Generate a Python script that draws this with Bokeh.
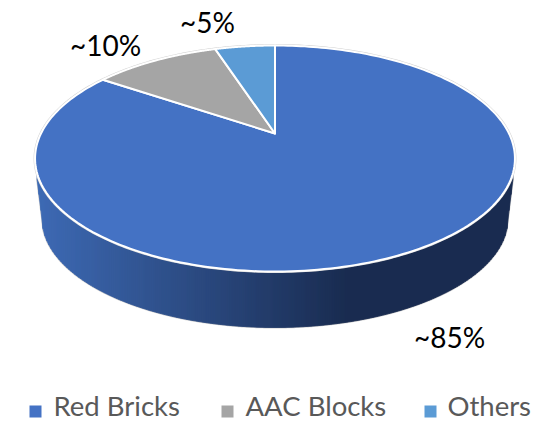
import numpy as np
from bokeh.plotting import figure
from bokeh.models import Range1d
from bokeh.core.properties import value
from bokeh.embed import file_html
from bokeh.resources import INLINE

categories = ["Red Bricks", "AAC Blocks", "Others"]
shares = [84.5, 10.5, 5.0]
labels = ["~85%", "~10%", "~5%"]
colors = ["#4472C4", "#A5A5A5", "#5B9BD5"]

W, H = 552, 422
p = figure(width=W, height=H, output_backend="svg", toolbar_location=None,
           x_range=Range1d(0, W), y_range=Range1d(H, 0),
           min_border=0, outline_line_color=None, background_fill_color="white")
p.xaxis.visible = False
p.yaxis.visible = False
p.grid.visible = False

# perspective projection of the pie disc
CX, APEX, A, a, c = 274.5, 133.0, 234.0, 78.05, -0.2212
def project(theta):
    u, v = np.sin(theta), -np.cos(theta)   # theta clockwise from 12 o'clock
    d = 1 + c * v
    return CX + A * u / d, (a * v + APEX) / d

# side wall
TY, TRY, TRX = 158.0, 113.0, 240.5
BY, BRY, BRX = 218.0, 109.0, 233.0
xl, xr = 36.5, 512.5
def grad(x):
    t = np.clip((x - 40) / 310, 0, 1)
    c0, c1 = np.array([0x3E, 0x6A, 0xB4]), np.array([0x1A, 0x2C, 0x50])
    r, g, b = (c0 + (c1 - c0) * t).astype(int)
    return f"#{r:02x}{g:02x}{b:02x}"
def top_y(x):
    return TY + TRY * np.sqrt(np.maximum(0, 1 - ((x - CX) / TRX) ** 2))
def bot_y(x):
    x = np.asarray(x, dtype=float)
    bl, br = CX - BRX, CX + BRX
    y = BY + BRY * np.sqrt(np.maximum(0, 1 - ((np.clip(x, bl, br) - CX) / BRX) ** 2))
    y = np.where(x < bl, 178 + (BY - 178) * (x - xl) / (bl - xl), y)
    y = np.where(x > br, 178 + (BY - 178) * (xr - x) / (xr - br), y)
    return y

edges = np.arange(xl, xr + 0.1, 2.0)
sx, sy, sc = [], [], []
for x0, x1 in zip(edges[:-1], edges[1:]):
    xs0 = np.array([x0, x1])
    ys_top = top_y(xs0)
    ys_bot = bot_y(xs0)
    sx.append([x0, x1, x1, x0]); sy.append([ys_top[0], ys_top[1], ys_bot[1], ys_bot[0]])
    sc.append(grad((x0 + x1) / 2))
# light outline of the wall
ox = np.r_[xl, CX - BRX, np.linspace(CX - BRX, CX + BRX, 400), CX + BRX, xr]
p.line(ox, bot_y(ox), line_color="#cfcfcf", line_width=2.0)
p.patches(sx, sy, fill_color=sc, line_color=sc, line_width=0.8)

# outer halo of the disc
tt = np.linspace(0, 2 * np.pi, 400)
hx, hy = project(tt)
p.line(hx, hy, line_color="#d4d4d4", line_width=3.0)

# slices
start = 0.0
for share, col in zip(shares, colors):
    end = start + share / sum(shares) * 2 * np.pi
    th = np.linspace(start, end, 240)
    ex, ey = project(th)
    p.patch(np.r_[CX, ex], np.r_[APEX, ey], fill_color=col, line_color="white",
            line_width=2, line_join="round")
    start = end

# data labels
font = value("Lato")
lx = [449, 105, 207]
ly = [336, 44, 21]
p.text(lx, ly, text=labels, text_font=font, text_font_size="28px", text_color="#000000",
       text_align="center", text_baseline="middle")

# legend
sq_x = [35, 227, 430]
txt_x = [53, 245, 447]
leg_y = 405
p.rect(sq_x, [411] * 3, width=12, height=12, fill_color=colors, line_color=None)
p.text(txt_x, [leg_y] * 3, text=categories, text_font=font, text_font_size="27.5px",
       text_color="#595959", text_align="left", text_baseline="middle")

open("out.html", "w").write(file_html(p, INLINE))
